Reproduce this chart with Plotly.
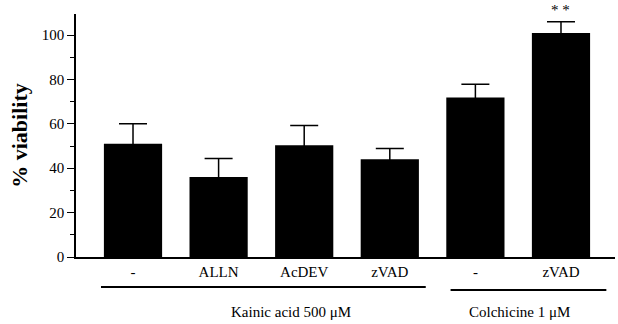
import plotly.graph_objects as go

labels = ["-", "ALLN", "AcDEV", "zVAD", "-", "zVAD"]
viability = [51.0, 36.0, 50.4, 44.1, 71.9, 100.9]
sem = [9.0, 8.4, 8.9, 4.8, 6.0, 5.1]
groups = ["Kainic acid 500 μM", "Colchicine 1 μM"]
group_members = [[0, 1, 2, 3], [4, 5]]
significance = ["", "", "", "", "", "* *"]
y_ticks = [0, 20, 40, 60, 80, 100]

FONT = "Liberation Serif, Times New Roman, serif"
xs = list(range(len(labels)))

fig = go.Figure()
fig.add_trace(go.Bar(
    x=xs, y=viability, width=0.68,
    marker=dict(color="black", line=dict(width=0)),
    error_y=dict(type="data", symmetric=True, array=sem,
                 color="black", thickness=1.5, width=14),
    showlegend=False,
))

annotations = []
for i, s in enumerate(significance):
    if s:
        annotations.append(dict(x=xs[i], y=viability[i] + sem[i], xref="x", yref="y",
                                text=s, showarrow=False, yanchor="bottom", yshift=2,
                                font=dict(family=FONT, size=15, color="black")))

shapes = []
line_spans = [(-0.374, 3.42, -0.123), (3.71, 5.53, -0.136)]
label_x = [1.846, 4.52]
for gi, (name, members) in enumerate(zip(groups, group_members)):
    x0, x1, yy = line_spans[gi]
    shapes.append(dict(type="line", xref="x", yref="paper", x0=x0, x1=x1, y0=yy, y1=yy,
                       line=dict(color="black", width=2)))
    annotations.append(dict(x=label_x[gi], y=-0.225, xref="x", yref="paper", text=name,
                            showarrow=False, yanchor="middle",
                            font=dict(family=FONT, size=15, color="black")))

fig.update_layout(
    width=618, height=324,
    margin=dict(l=76, r=3, t=14, b=67),
    plot_bgcolor="white", paper_bgcolor="white",
    font=dict(family=FONT, size=15, color="black"),
    xaxis=dict(range=[-0.666, 5.631], tickvals=xs, ticktext=labels, showline=True,
               linecolor="black", linewidth=1.5, ticks="", showgrid=False, zeroline=False,
               tickfont=dict(family=FONT, size=15, color="black")),
    yaxis=dict(range=[0, 109.5], tickvals=y_ticks, showline=True, linecolor="black",
               linewidth=1.5, ticks="outside", ticklen=7, tickwidth=1.2, tickcolor="black",
               showgrid=False, zeroline=False,
               minor=dict(dtick=10, ticks="outside", ticklen=4, tickcolor="black", tickwidth=1),
               tickfont=dict(family=FONT, size=15, color="black"),
               title=dict(text="<b>% viability</b>", font=dict(family=FONT, size=22, color="black"),
                          standoff=8)),
    annotations=annotations,
    shapes=shapes,
)

fig.write_html("out.html", config={"displayModeBar": False},
               post_script="document.body.style.margin='0';document.body.style.padding='0';")
